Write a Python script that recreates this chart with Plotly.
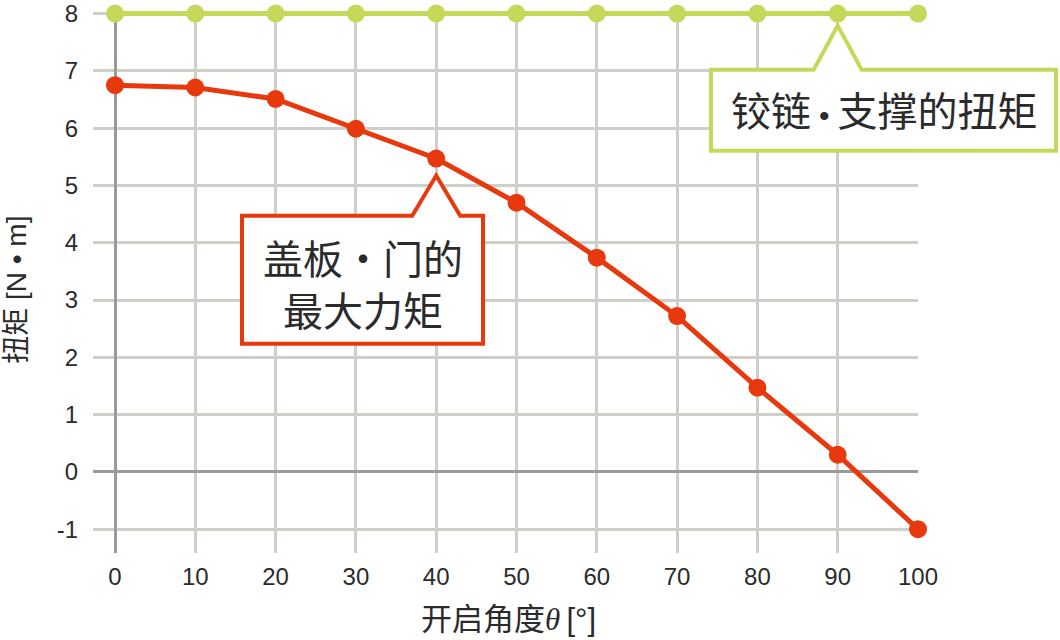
import plotly.graph_objects as go

# ---- data ----
angles = [0, 10, 20, 30, 40, 50, 60, 70, 80, 90, 100]
max_torque = [6.75, 6.71, 6.51, 5.99, 5.47, 4.70, 3.74, 2.72, 1.47, 0.30, -1.00]
hinge_torque = [8, 8, 8, 8, 8, 8, 8, 8, 8, 8, 8]
x_ticks = [0, 10, 20, 30, 40, 50, 60, 70, 80, 90, 100]
y_ticks = [-1, 0, 1, 2, 3, 4, 5, 6, 7, 8]
y_tick_text = ["-1", "0", "1", "2", "3", "4", "5", "6", "7", "8"]

RED = "#E8380D"
GREEN = "#C5D85A"
TXT = "#2b2b2b"

OFF = 0  # body margin removed in the page (see post_script)
W, H = 1060, 640
XR = [-2.74, 100]
YR = [-1.415, 8.045]
# plot area in screen pixels: left 93, right 918, bottom 553; 57.25 px per y unit
TOP = 553 - (YR[1] - YR[0]) * 57.25
ML, MT = 93 - OFF, TOP - OFF
MR, MB = W - (918 - OFF), H - (553 - OFF)
PW, PH = W - ML - MR, H - MT - MB


def px(x):  # screen pixel -> paper x
    return (x - OFF - ML) / PW


def py(y):  # screen pixel -> paper y
    return (H - MB - (y - OFF)) / PH


def dx(v):  # data x -> screen pixel
    return OFF + ML + (v - XR[0]) / (XR[1] - XR[0]) * PW


def dy(v):  # data y -> screen pixel
    return OFF + MT + (YR[1] - v) / (YR[1] - YR[0]) * PH


def callout(left, top, right, bottom, tipx, tipy, half):
    pts = [(left, top), (tipx - half, top), (tipx, tipy), (tipx + half, top),
           (right, top), (right, bottom), (left, bottom)]
    return "M " + " L ".join(f"{px(a):.5f},{py(b):.5f}" for a, b in pts) + " Z"


fig = go.Figure()
fig.add_trace(go.Scatter(x=angles, y=hinge_torque, mode="lines+markers",
                         line=dict(color=GREEN, width=5),
                         marker=dict(color=GREEN, size=18),
                         cliponaxis=False, showlegend=False, hoverinfo="skip"))
fig.add_trace(go.Scatter(x=angles, y=max_torque, mode="lines+markers",
                         line=dict(color=RED, width=5),
                         marker=dict(color=RED, size=18),
                         cliponaxis=False, showlegend=False, hoverinfo="skip"))

gx, gy = dx(angles[9]), dy(hinge_torque[9])
rx, ry = dx(angles[4]), dy(max_torque[4])

shapes = [
    dict(type="path", xref="paper", yref="paper",
         path=callout(711, 70, 1056, 151, gx, gy + 12, 24),
         line=dict(color=GREEN, width=4), fillcolor="white", layer="above"),
    dict(type="path", xref="paper", yref="paper",
         path=callout(242, 216, 483, 344, rx, ry + 17, 24),
         line=dict(color=RED, width=4), fillcolor="white", layer="above"),
]

mixed = "Liberation Sans, Noto Sans CJK SC"
cjk = "Noto Sans CJK SC"
annotations = [
    dict(x=px(884), y=py(112), xref="paper", yref="paper",
         text="铰链\u2009<span style=\"font-size:30px\">•</span>\u2009支撑的扭矩",
         xanchor="center", yanchor="middle",
         showarrow=False, font=dict(family=mixed, size=40, color=TXT)),
    dict(x=px(363), y=py(283), xref="paper", yref="paper", text="盖板・门的<br>最大力矩",
         xanchor="center", yanchor="middle",
         showarrow=False, font=dict(family=cjk, size=40, color=TXT)),
    dict(x=px(17), y=py(290), xref="paper", yref="paper", text="扭矩 [N • m]",
         xanchor="center", yanchor="middle",
         textangle=-90, showarrow=False, font=dict(family=mixed, size=28, color=TXT)),
    dict(x=px(508), y=py(619), xref="paper", yref="paper",
         text="开启角度<span style=\"font-family:'Liberation Serif'\"><i>θ</i></span>\u2009[°]",
         xanchor="center", yanchor="middle",
         showarrow=False, font=dict(family=mixed, size=31, color=TXT)),
]

fig.update_layout(
    width=W, height=H,
    margin=dict(l=ML, r=MR, t=MT, b=MB, pad=0, autoexpand=False),
    paper_bgcolor="white", plot_bgcolor="white",
    shapes=shapes, annotations=annotations, hovermode=False,
    xaxis=dict(range=XR, tickvals=x_ticks, showgrid=True, gridcolor="#cfcfca", gridwidth=2.5,
               zeroline=True, zerolinecolor="#9a9a9a", zerolinewidth=3,
               showline=False, ticks="", ticklabelstandoff=7, automargin=False,
               ticklabeloverflow="allow", fixedrange=True,
               tickfont=dict(family="Liberation Sans", size=24, color=TXT)),
    yaxis=dict(range=YR, tickvals=y_ticks, ticktext=y_tick_text, showgrid=True,
               gridcolor="#cfcfca", gridwidth=2.5,
               zeroline=True, zerolinecolor="#9a9a9a", zerolinewidth=2.5,
               showline=False, ticks="", ticklabelstandoff=14, automargin=False,
               ticklabeloverflow="allow", fixedrange=True,
               tickfont=dict(family="Liberation Sans", size=24, color=TXT)),
)

fig.write_html("out.html", config={"displayModeBar": False},
               post_script="document.body.style.margin='0';document.body.style.overflow='hidden';")
